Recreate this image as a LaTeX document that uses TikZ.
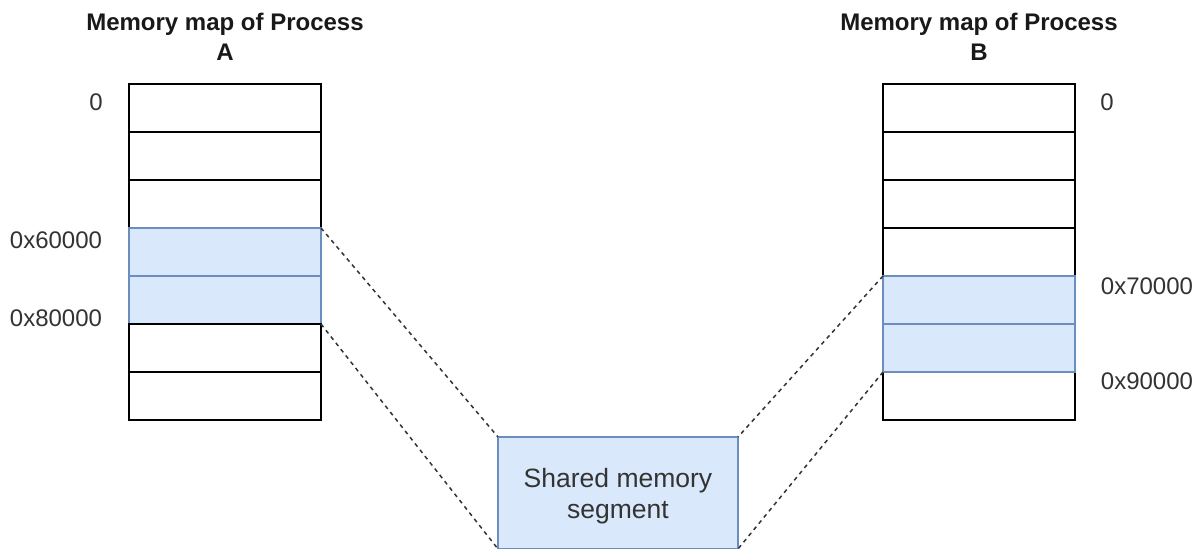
\documentclass[tikz,border=0pt]{standalone}
\usepackage{fontspec}
\setmainfont{Liberation Sans}
\definecolor{txtgray}{HTML}{333333}
\definecolor{bluefill}{HTML}{DAE8FC}
\definecolor{bluedraw}{HTML}{6C8EBF}
\begin{document}
\begin{tikzpicture}[x=1pt,y=-1pt,
  cell/.style={draw=black, fill=white, line width=1.4pt, minimum width=192pt, minimum height=48pt, inner sep=0pt, outer sep=0pt, anchor=north west},
  shcell/.style={cell, draw=bluedraw, fill=bluefill},
  addr/.style={text=txtgray, font=\fontsize{24}{28}\selectfont, inner sep=0pt},
  ttl/.style={text=black!90, font=\bfseries\fontsize{24}{30}\selectfont, align=center, inner sep=0pt},
  conn/.style={draw=txtgray, line width=1.5pt, dash pattern=on 4pt off 4pt}]
\useasboundingbox (0,0) rectangle (1203,549);
\clip (0,0) rectangle (1203,549);
% Process A
\node[cell] (a1) at (129,84) {};
\node[cell] (a2) at (129,132) {};
\node[cell] (a3) at (129,180) {};
\node[shcell] (a4) at (129,228) {};
\node[shcell] (a5) at (129,276) {};
\node[cell] (a6) at (129,324) {};
\node[cell] (a7) at (129,372) {};
% Process B
\node[cell] (b1) at (883,84) {};
\node[cell] (b2) at (883,132) {};
\node[cell] (b3) at (883,180) {};
\node[cell] (b4) at (883,228) {};
\node[cell] (b7) at (883,372) {};
\node[shcell] (b5) at (883,276) {};
\node[shcell] (b6) at (883,324) {};
% Shared segment
\node[draw=bluedraw, fill=bluefill, line width=1.4pt, minimum width=240pt, minimum height=112pt, inner sep=0pt, outer sep=0pt, anchor=north west] (s) at (498,437) {};
\node[text=txtgray, font=\fontsize{26.5}{31}\selectfont, align=center, inner sep=0pt] (stext) at (618,496) {Shared memory\\segment};
% titles
\node[ttl] (ta) at (225,37) {Memory map of Process\\A};
\node[ttl] (tb) at (979,37) {Memory map of Process\\B};
% addresses
\node[addr] (l0) at (96,102) {0};
\node[addr] (l6) at (56,240) {0x60000};
\node[addr] (l8) at (56,318) {0x80000};
\node[addr] (r0) at (1107,102) {0};
\node[addr] (r7) at (1147,286) {0x70000};
\node[addr] (r9) at (1147,381) {0x90000};
% connectors
\draw[conn] (a4.north east) -- (s.north west);
\draw[conn] (a5.south east) -- (s.south west);
\draw[conn] (b5.north west) -- (s.north east);
\draw[conn] (b6.south west) -- (s.south east);
\end{tikzpicture}
\end{document}
